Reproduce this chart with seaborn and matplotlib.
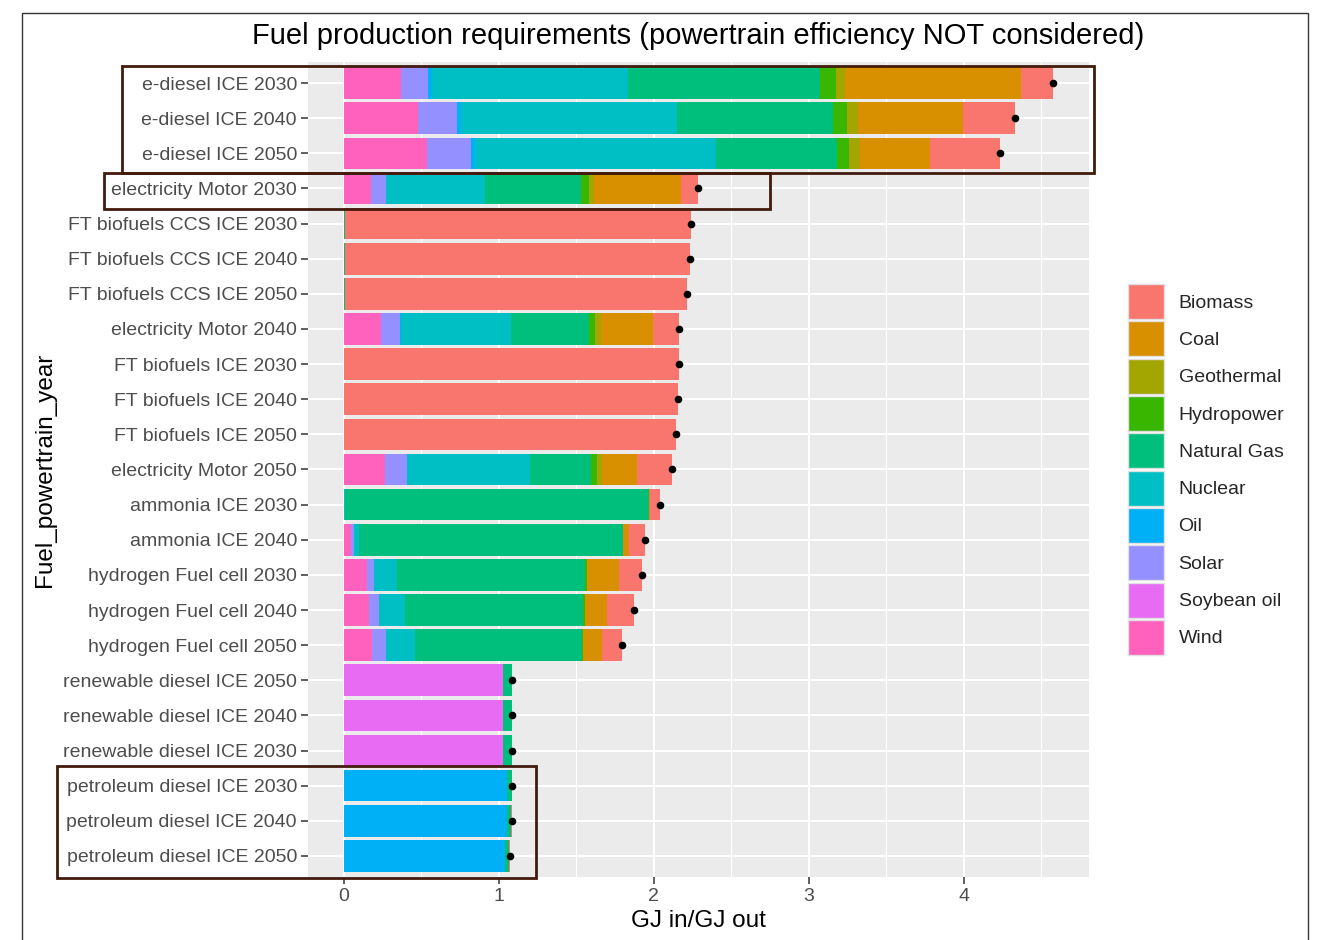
import numpy as np
import pandas as pd
import matplotlib
matplotlib.use("Agg")
import matplotlib.pyplot as plt
import seaborn as sns
from matplotlib.patches import Rectangle, Patch
from matplotlib.ticker import MultipleLocator

categories = [
    "e-diesel ICE 2030", "e-diesel ICE 2040", "e-diesel ICE 2050",
    "electricity Motor 2030",
    "FT biofuels CCS ICE 2030", "FT biofuels CCS ICE 2040", "FT biofuels CCS ICE 2050",
    "electricity Motor 2040",
    "FT biofuels ICE 2030", "FT biofuels ICE 2040", "FT biofuels ICE 2050",
    "electricity Motor 2050",
    "ammonia ICE 2030", "ammonia ICE 2040",
    "hydrogen Fuel cell 2030", "hydrogen Fuel cell 2040", "hydrogen Fuel cell 2050",
    "renewable diesel ICE 2050", "renewable diesel ICE 2040", "renewable diesel ICE 2030",
    "petroleum diesel ICE 2030", "petroleum diesel ICE 2040", "petroleum diesel ICE 2050",
]

wind        = [0.368, 0.483, 0.538, 0.179, 0, 0, 0, 0.243, 0, 0, 0, 0.265, 0.003, 0.050, 0.153, 0.163, 0.185, 0, 0, 0, 0, 0, 0]
soybean_oil = [0, 0, 0, 0, 0, 0, 0, 0, 0, 0, 0, 0, 0, 0, 0, 0, 0, 1.032, 1.032, 1.032, 0, 0, 0]
solar       = [0.180, 0.251, 0.285, 0.093, 0, 0, 0, 0.122, 0, 0, 0, 0.143, 0, 0.015, 0.045, 0.065, 0.086, 0, 0, 0, 0, 0, 0]
oil         = [0.026, 0.026, 0.025, 0.003, 0, 0, 0, 0.003, 0, 0, 0, 0.003, 0, 0, 0, 0, 0, 0, 0, 0, 1.056, 1.056, 1.045]
nuclear     = [1.259, 1.393, 1.558, 0.638, 0.003, 0.003, 0.003, 0.710, 0, 0, 0, 0.794, 0.004, 0.037, 0.150, 0.170, 0.187, 0, 0, 0, 0, 0, 0]
natural_gas = [1.240, 1.003, 0.776, 0.622, 0.006, 0.006, 0.006, 0.503, 0, 0, 0, 0.389, 1.965, 1.701, 1.211, 1.148, 1.080, 0.056, 0.056, 0.056, 0.028, 0.026, 0.024]
hydropower  = [0.103, 0.090, 0.080, 0.048, 0, 0, 0, 0.043, 0, 0, 0, 0.039, 0, 0, 0.009, 0.009, 0.009, 0, 0, 0, 0, 0, 0]
geothermal  = [0.058, 0.071, 0.071, 0.032, 0, 0, 0, 0.034, 0, 0, 0, 0.037, 0, 0, 0, 0, 0, 0, 0, 0, 0, 0, 0]
coal        = [1.134, 0.679, 0.452, 0.564, 0, 0, 0, 0.340, 0, 0, 0, 0.226, 0.005, 0.039, 0.206, 0.146, 0.118, 0, 0, 0, 0.003, 0, 0]
biomass     = [0.211, 0.336, 0.448, 0.106, 2.234, 2.223, 2.204, 0.168, 2.166, 2.155, 2.146, 0.224, 0.067, 0.101, 0.151, 0.176, 0.131, 0, 0, 0, 0.003, 0.003, 0.002]
totals      = [4.579, 4.332, 4.233, 2.285, 2.243, 2.232, 2.213, 2.166, 2.166, 2.155, 2.146, 2.120,
               2.044, 1.943, 1.925, 1.877, 1.796, 1.088, 1.088, 1.088, 1.090, 1.085, 1.071]

legend_sources = ["Biomass", "Coal", "Geothermal", "Hydropower", "Natural Gas",
                  "Nuclear", "Oil", "Solar", "Soybean oil", "Wind"]
source_colors = ["#F8766D", "#D89000", "#A3A500", "#39B600", "#00BF7D",
                 "#00BFC4", "#00B0F6", "#9590FF", "#E76BF3", "#FF62BC"]
palette = dict(zip(legend_sources, source_colors))

df = pd.DataFrame({
    "category": categories,
    "Wind": wind, "Soybean oil": soybean_oil, "Solar": solar, "Oil": oil,
    "Nuclear": nuclear, "Natural Gas": natural_gas, "Hydropower": hydropower,
    "Geothermal": geothermal, "Coal": coal, "Biomass": biomass,
})
stack_order = ["Wind", "Soybean oil", "Solar", "Oil", "Nuclear", "Natural Gas",
               "Hydropower", "Geothermal", "Coal", "Biomass"]
cum = df[stack_order].cumsum(axis=1)
cum["category"] = df["category"]

sns.set_theme(style="darkgrid")
plt.rcParams["font.family"] = ["Liberation Sans", "DejaVu Sans"]

W, H = 1322, 940
fig = plt.figure(figsize=(W / 100, H / 100), dpi=100)
ax = fig.add_axes([308 / W, 1 - 877 / H, (1089 - 308) / W, (877 - 62) / H])
ax.set_facecolor("#EBEBEB")

for src in reversed(stack_order):
    sns.barplot(data=cum, x=src, y="category", order=categories, orient="h",
                color=palette[src], saturation=1, width=0.9, linewidth=0,
                errorbar=None, ax=ax)

sns.stripplot(x=totals, y=categories, order=categories, orient="h", jitter=False,
              color="black", size=5.5, linewidth=0, ax=ax, zorder=5)

ax.set_xlim(-0.229, 4.809)
ax.set_ylim(22.6, -0.6)
ax.xaxis.set_major_locator(MultipleLocator(1))
ax.xaxis.set_minor_locator(MultipleLocator(0.5))
ax.set_axisbelow(True)
ax.grid(which="major", axis="both", color="white", linewidth=1.5)
ax.grid(which="minor", axis="x", color="white", linewidth=0.75)
ax.tick_params(axis="both", which="major", length=5, width=1.1, color="#333333",
               labelcolor="#4D4D4D", labelsize=14, pad=3, left=True, bottom=True)
ax.tick_params(axis="both", which="minor", length=0)
for sp in ax.spines.values():
    sp.set_visible(False)
ax.set_xlabel("")
ax.set_ylabel("")

fig.text(698.5 / W, 1 - 36 / H, "Fuel production requirements (powertrain efficiency NOT considered)",
         ha="center", va="center", fontsize=21, color="black")
fig.text(698.5 / W, 1 - 921 / H, "GJ in/GJ out", ha="center", va="center",
         fontsize=17.5, color="black")
fig.text(45 / W, 1 - 470 / H, "Fuel_powertrain_year", ha="center", va="center",
         rotation=90, fontsize=17.5, color="black")

handles = [Patch(facecolor=palette[s], edgecolor="#E0E0E0", linewidth=1) for s in legend_sources]
fig.legend(handles, legend_sources, loc="center left", bbox_to_anchor=(1128 / W, 1 - 469.5 / H),
           frameon=False, fontsize=14, handlelength=1.85, handleheight=2.39,
           labelspacing=0.12, handletextpad=0.75, borderpad=0, borderaxespad=0)

rect_color = "#421B0D"
for (x0, x1, y0, y1) in [(-1.426, 4.842, -0.478, 2.568),
                         (-1.542, 2.751, 2.568, 3.593),
                         (-1.847, 1.243, 19.43, 22.62)]:
    ax.add_patch(Rectangle((x0, y0), x1 - x0, y1 - y0, transform=ax.transData,
                           fill=False, edgecolor=rect_color, linewidth=2,
                           clip_on=False, zorder=10))

fig.patches.append(Rectangle((22 / W, -0.05), (1308 - 22) / W, 1.05 - 13 / H,
                             transform=fig.transFigure, fill=False,
                             edgecolor="#333333", linewidth=1))

fig.savefig("out.png", dpi=100)
